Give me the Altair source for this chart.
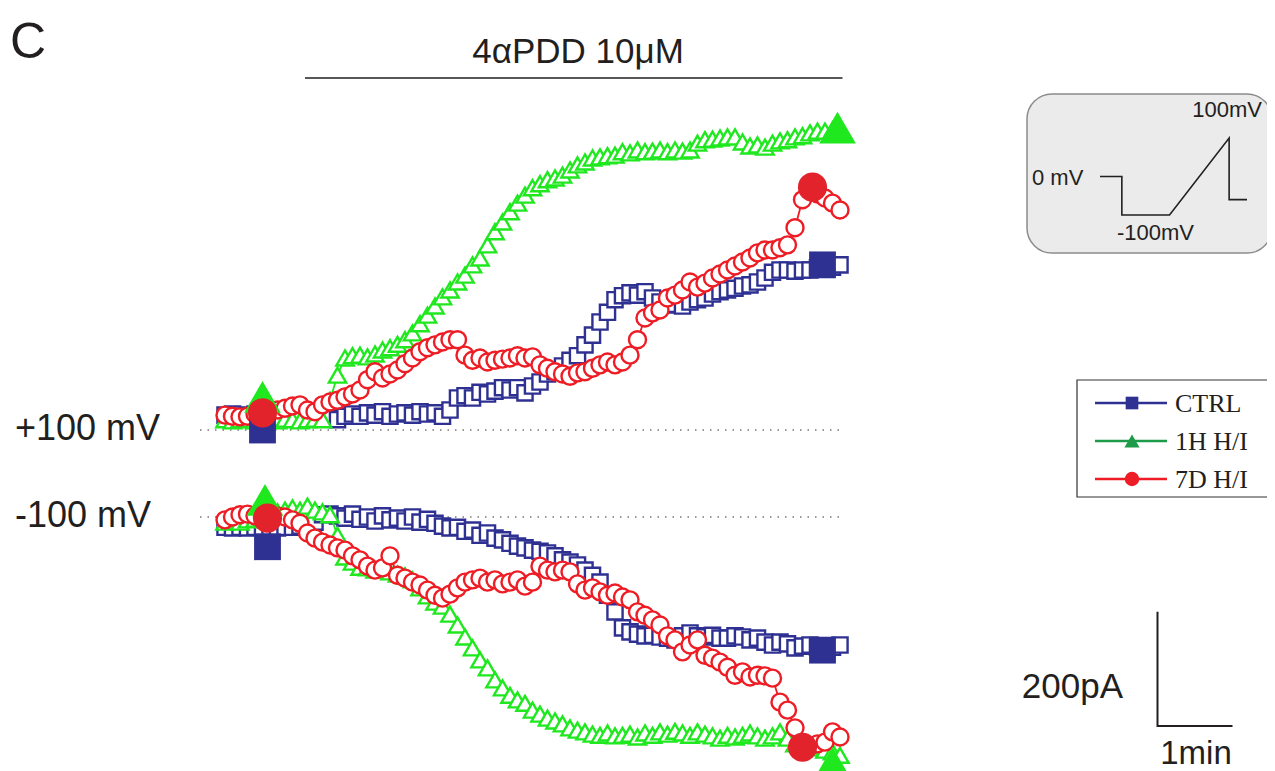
import altair as alt
import pandas as pd

# ---------------- data ----------------
# one sample every 6 s
TIME_S = list(range(0, 498, 6))

# +100 mV outward currents (pA, relative to the dotted reference line)
CTRL_UP_PA = [26, 28, 24, 26, 28, 24, 26, 24, 26, 23, 24, 26, 23, 24, 21,
              18, 24, 28, 24, 30, 26, 32, 24, 28, 30, 26, 32, 28, 30, 24, 35,
              56, 60, 56, 66, 63, 68, 74, 70, 74, 65,
              77, 84, 98, 102, 112, 122, 130, 149, 166, 189, 206, 228, 235, 240, 236, 242,
              231, 224, 219, 220, 217, 224, 228, 231, 238, 242, 245, 248, 252, 254, 259,
              266, 276, 280, 280, 278, 280, 280, 284, 287, 285, 289]
H1_UP_PA = [18, 16, 18, 19, 16, 18, 18, 16, 19, 18, 16, 18, 19, 18,
            52, 96, 126, 130, 131, 128, 133, 140, 144, 150, 158, 170, 186, 201, 217, 233,
            245, 259, 271, 289, 301, 324, 347, 364, 382, 397, 411,
            424, 431, 438, 441, 446, 455, 464, 469, 476, 478, 480, 481, 487, 485, 490, 487,
            488, 490, 487, 490, 488, 490,
            502, 508, 509, 511, 513, 513, 504, 497, 499, 495, 502, 506, 508, 513, 515, 520,
            523, 523, 525, 525]
D7_UP_PA = [26, 24, 23, 24, 28, 30, 32, 35, 38, 42,
            44, 35, 32, 44, 49, 52, 58, 63, 70, 88,
            102, 91, 98, 105, 116, 126, 137, 144, 149, 154,
            158, 158, 131, 122, 126, 119, 122, 124, 126, 130,
            126, 128, 114, 108, 102, 98, 94, 100, 102, 108,
            114, 119, 114, 119, 131, 158, 196, 205, 210, 231,
            236, 245, 259, 250, 257, 266, 273, 280, 287, 294,
            301, 310, 315, 315, 319, 324, 354, 403, 420, 413,
            406, 397, 385]

# -100 mV inward currents (pA)
CTRL_DN_PA = [-18, -19, -18, -19, -18, -19, -18, -19, -18, -18,
              -16, -14, -9, 4, 5, 2, -2, 5, -4, 0,
              -7, 2, -5, -2, -7, 0, -9, -4, -11, -16,
              -19, -18, -25, -23, -32, -28, -37, -40, -46, -51,
              -54, -58, -60, -63, -68, -75, -79, -84, -93, -102,
              -114, -137, -166, -194, -201, -205, -208, -207, -210, -212,
              -215, -208, -203, -208, -210, -207, -212, -212, -208, -210,
              -215, -212, -219, -224, -219, -222, -229, -226, -224, -228,
              -229, -228, -224]
H1_DN_PA = [-9, -7, -9, -5, -4, -2, 4, 9, 12, 16,
            12, 19, 12, 9, 4, -32, -70, -79, -88, -89,
            -93, -91, -96, -100, -103, -110, -124, -138, -149, -156,
            -170, -189, -210, -229, -250, -264, -285, -299, -312, -320,
            -326, -338, -345, -352, -357, -362, -369, -373, -376, -380,
            -382, -378, -383, -382, -380, -385, -378, -382, -376, -380,
            -375, -378, -382, -376, -380, -383, -387, -382, -385, -382,
            -378, -383, -387, -383, -376, -387, -397, -401, -404, -399,
            -408, -411, -417]
D7_DN_PA = [-5, 0, 4, 5, 2, 0, 4, 2, 0, -5,
            -11, -28, -37, -44, -49, -54, -58, -68, -75, -86,
            -93, -89, -68, -102, -107, -114, -119, -128, -137, -142,
            -135, -124, -114, -110, -107, -114, -110, -117, -114, -110,
            -121, -114, -86, -93, -96, -93, -96, -117, -128, -124,
            -131, -137, -133, -140, -145, -166, -172, -180, -189, -208,
            -215, -236, -224, -215, -242, -247, -254, -263, -277, -271,
            -280, -277, -278, -282, -324, -338, -369, -403, -401, -397,
            -394, -376, -385]

# highlighted (filled) start / end points: [start, end]
CTRL_UP_MARK_T, CTRL_UP_MARK_PA = [30, 478], [0, 289]
H1_UP_MARK_T, H1_UP_MARK_PA = [30, 490], [58, 529]
D7_UP_MARK_T, D7_UP_MARK_PA = [30, 470], [30, 425]
CTRL_DN_MARK_T, CTRL_DN_MARK_PA = [34, 478], [-52, -233]
H1_DN_MARK_T, H1_DN_MARK_PA = [32, 486], [30, -430]
D7_DN_MARK_T, D7_DN_MARK_PA = [34, 462], [-2, -403]

# reference (zero) lines and drug application
REF_T = [-20, 492]
REF_PA = [0, 0]
DRUG_START_S, DRUG_END_S = 64, 494

# scale bar: 200 pA / 1 min
SCALEBAR_T = [746, 746, 806]
SCALEBAR_PA = [-318, -518, -518]

# voltage protocol (schematic inset)
PROTO_MS = [0, 55, 55, 175, 325, 325, 370]
PROTO_MV = [0, 0, -100, -100, 100, -60, -60]

LEGEND_LABELS = ["CTRL", "1H H/I", "7D H/I"]

# ---------------- styling ----------------
NAVY = "#2e3192"
LIME = "#1fe81f"
RED = "#ee1c24"
FRED = "#e3232c"
LEG_GREEN = "#1e9b48"
INK = "#231f20"
SANS = "Liberation Sans"
SERIF = "Liberation Serif"

XS = alt.Scale(domain=[0, 60], range=[217, 292], nice=False, zero=False)
YS_UP = alt.Scale(domain=[0, 200], range=[422, 422 - 200 / 1.75], nice=False, zero=False)
YS_DN = alt.Scale(domain=[0, 200], range=[509, 509 - 200 / 1.75], nice=False, zero=False)


def enc(chart, ys):
    return chart.encode(x=alt.X("t:Q", scale=XS, axis=None),
                        y=alt.Y("pA:Q", scale=ys, axis=None))


def hollow(times, vals, color, shape, size, ys):
    df = pd.DataFrame({"t": times, "pA": vals})
    base = alt.Chart(df)
    line = enc(base.mark_line(color=color, strokeWidth=1.8), ys)
    pts = enc(base.mark_point(shape=shape, size=size, filled=True, fill="white",
                              stroke=color, strokeWidth=2.4, opacity=1), ys)
    return [line, pts]


def filled(times, vals, color, shape, size, ys):
    df = pd.DataFrame({"t": times, "pA": vals})
    return enc(alt.Chart(df).mark_point(shape=shape, size=size, filled=True,
                                        color=color, opacity=1), ys)


def refline(ys):
    df = pd.DataFrame({"t": REF_T, "pA": REF_PA})
    return enc(alt.Chart(df).mark_line(color="#777777", strokeWidth=1.3,
                                       strokeDash=[1.5, 6]), ys)


def label(text, x, y, size, align="left", font=SANS, baseline="alphabetic"):
    return alt.Chart(pd.DataFrame({"s": [text]})).mark_text(
        align=align, baseline=baseline, font=font, fontSize=size, color=INK
    ).encode(x=alt.value(x), y=alt.value(y), text="s:N")


SQ, TRI, CIR = 230, 300, 290
F_SQ, F_TRI, F_CIR = 720, 1350, 850

scalebar = enc(alt.Chart(pd.DataFrame({"t": SCALEBAR_T, "pA": SCALEBAR_PA,
                                       "k": [0, 1, 2]}))
               .mark_line(color=INK, strokeWidth=2), YS_UP).encode(order="k:Q")

drug = alt.Chart(pd.DataFrame({"a": [DRUG_START_S], "b": [DRUG_END_S]})).mark_rule(
    color=INK, strokeWidth=1.3).encode(x=alt.X("a:Q", scale=XS, axis=None), x2="b:Q",
                                       y=alt.value(70))

top = alt.layer(
    refline(YS_UP),
    *hollow(TIME_S, CTRL_UP_PA, NAVY, "square", SQ, YS_UP),
    *hollow(TIME_S, H1_UP_PA, LIME, "triangle-up", TRI, YS_UP),
    *hollow(TIME_S, D7_UP_PA, RED, "circle", CIR, YS_UP),
    filled(CTRL_UP_MARK_T, CTRL_UP_MARK_PA, NAVY, "square", F_SQ, YS_UP),
    filled(H1_UP_MARK_T, H1_UP_MARK_PA, LIME, "triangle-up", F_TRI, YS_UP),
    filled(D7_UP_MARK_T, D7_UP_MARK_PA, FRED, "circle", F_CIR, YS_UP),
    scalebar,
    drug,
)

bottom = alt.layer(
    refline(YS_DN),
    *hollow(TIME_S, CTRL_DN_PA, NAVY, "square", SQ, YS_DN),
    *hollow(TIME_S, H1_DN_PA, LIME, "triangle-up", TRI, YS_DN),
    *hollow(TIME_S, D7_DN_PA, RED, "circle", CIR, YS_DN),
    filled(CTRL_DN_MARK_T, CTRL_DN_MARK_PA, NAVY, "square", F_SQ, YS_DN),
    filled(H1_DN_MARK_T, H1_DN_MARK_PA, LIME, "triangle-up", F_TRI, YS_DN),
    filled(D7_DN_MARK_T, D7_DN_MARK_PA, FRED, "circle", F_CIR, YS_DN),
)

# inset with voltage protocol
inset_box = alt.Chart(pd.DataFrame({"a": [0]})).mark_rect(
    cornerRadius=25, fill="#ebebeb", stroke="#8c8c8c", strokeWidth=1.5
).encode(x=alt.value(1019), x2=alt.value(1264), y=alt.value(86), y2=alt.value(245))
proto = alt.Chart(pd.DataFrame({"ms": PROTO_MS, "mV": PROTO_MV,
                                "k": list(range(len(PROTO_MS)))})).mark_line(
    color=INK, strokeWidth=1.6
).encode(
    x=alt.X("ms:Q", scale=alt.Scale(domain=[0, 370], range=[1092, 1239], nice=False, zero=False), axis=None),
    y=alt.Y("mV:Q", scale=alt.Scale(domain=[-100, 100], range=[207, 130], nice=False, zero=False), axis=None),
    order="k:Q",
)
inset = alt.layer(
    inset_box, proto,
    label("100mV", 1254, 109, 22, align="right"),
    label("0 mV", 1024, 177, 22),
    label("-100mV", 1109, 232, 22),
)

# legend
leg_df = pd.DataFrame({"label": LEGEND_LABELS, "row": [0, 1, 2],
                       "col": [NAVY, LEG_GREEN, RED], "sz": [160, 230, 210]})
YL = alt.Scale(domain=[0, 2], range=[395, 471], nice=False, zero=False)
leg_box = alt.Chart(pd.DataFrame({"a": [0]})).mark_rect(
    fill="white", stroke="#333333", strokeWidth=1.2
).encode(x=alt.value(1069), x2=alt.value(1265), y=alt.value(372), y2=alt.value(489))
leg_base = alt.Chart(leg_df)
leg_lines = leg_base.mark_rule(strokeWidth=2.5).encode(
    x=alt.value(1087), x2=alt.value(1159), y=alt.Y("row:Q", scale=YL, axis=None),
    color=alt.Color("col:N", scale=None))
leg_pts = leg_base.mark_point(filled=True, opacity=1).encode(
    x=alt.value(1124), y=alt.Y("row:Q", scale=YL, axis=None),
    color=alt.Color("col:N", scale=None),
    size=alt.Size("sz:Q", scale=None),
    shape=alt.Shape("label:N", scale=alt.Scale(domain=LEGEND_LABELS,
                                               range=["square", "triangle-up", "circle"]),
                    legend=None))
leg_txt = leg_base.mark_text(align="left", baseline="middle", font=SERIF,
                             fontSize=26, color=INK, dy=1).encode(
    x=alt.value(1167), y=alt.Y("row:Q", scale=YL, axis=None), text="label:N")
legend = alt.layer(leg_box, leg_lines, leg_pts, leg_txt)

texts = alt.layer(
    label("C", 2, 50, 50),
    label("4\u03b1PDD 10\u03bcM", 570, 55, 35, align="center"),
    label("+100 mV", 7, 432, 36),
    label("-100 mV", 7, 519, 36),
    label("200pA", 1115, 690, 35, align="right"),
    label("1min", 1188, 756, 33, align="center"),
)

chart = alt.layer(top, bottom, inset, legend, texts).resolve_scale(
    x="independent", y="independent"
).properties(
    width=1259, height=763, padding=0,
    autosize=alt.AutoSizeParams(type="none"),
).configure_view(stroke=None)

chart.save("out.html", embed_options={"renderer": "svg", "actions": False})
